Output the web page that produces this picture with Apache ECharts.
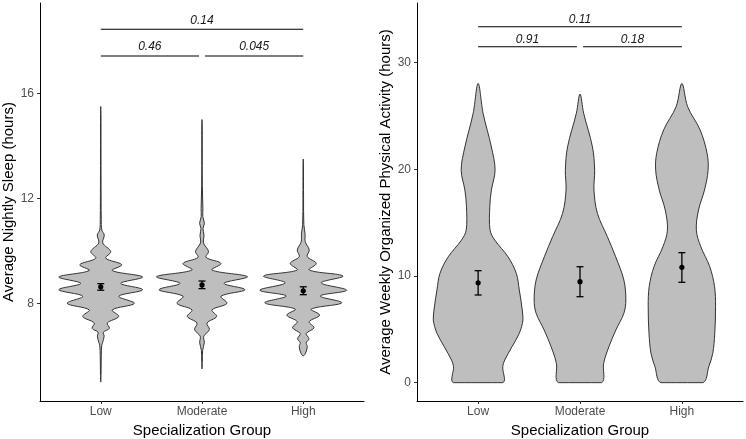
<!DOCTYPE html>
<html><head><meta charset="utf-8">
<script src="https://cdn.jsdelivr.net/npm/echarts@6/dist/echarts.min.js"></script>
<style>html,body{margin:0;padding:0;background:#fff}#c{width:746px;height:439px}</style>
</head><body><div id="c"></div>
<script>
// ---------- data ----------
const categories = ['Low', 'Moderate', 'High'];
const sleepTicks = [8, 12, 16];
const activityTicks = [0, 10, 20, 30];

// violin density profiles: [value, relative density]
const sleepLowDensity = [
  [5.0,0],[5.3,0.3],[6.0,0.5],[6.4,1.0],[6.5,1.8],[6.75,3.4],[6.9,2.6],[7.05,8.7],[7.25,6.5],
  [7.5,18],[7.75,11.5],[8.0,33.6],[8.27,18],[8.52,42],[8.76,20],[9.0,42],[9.25,11.5],[9.47,21],
  [9.72,5],[9.97,10],[10.3,2],[10.6,3.5],[10.8,1.0],[11.2,0.5],[12.5,0.3],[14,0.25],[15.2,0.2],[15.5,0]
];
const sleepModerateDensity = [
  [5.5,0],[5.8,0.3],[6.2,0.6],[6.5,2.3],[6.75,1.8],[7.0,7.4],[7.25,5],[7.5,14.7],[7.75,10],
  [8.0,25],[8.27,19],[8.52,43],[8.76,22],[9.01,45.6],[9.27,10],[9.52,19],[9.75,4],[9.98,6.5],
  [10.3,1.5],[10.6,2],[10.85,1.0],[11.05,2.4],[11.3,0.8],[11.6,0.9],[12.5,0.3],[14,0.25],[14.8,0.2],[15.0,0]
];
const sleepHighDensity = [
  [6.0,0],[6.1,2.3],[6.35,4],[6.5,3],[6.65,5.7],[6.85,3],[7.07,10.7],[7.3,6],[7.55,16.4],[7.78,8],
  [8.02,38.5],[8.28,17],[8.5,43.4],[8.78,18],[9.04,39.7],[9.27,6],[9.52,13],[9.78,4],[10.03,6],
  [10.35,2],[10.65,1.8],[11,0.6],[12,0.3],[13.3,0.2],[13.5,0]
];
const activityLowDensity = [
  [0,24.7],[1.5,24.7],[2.12,26.7],[3.37,34],[4.63,41.3],[5.88,45],[6.81,44.3],[8.69,41.3],
  [10.25,38.3],[11.8,30],[13.37,16.7],[14.3,12],[16.5,11.7],[18.06,13.3],[19.93,17],[22.1,13.3],
  [25.25,5],[28.06,0]
];
const activityModerateDensity = [
  [0,21.5],[1.81,23.7],[3.37,29],[4.94,36],[6.5,44],[7.75,46],[9.63,44],[11.8,35.8],[13.68,27.5],
  [15.87,17.5],[18.06,14],[19.93,14.7],[22.1,12.5],[25.25,3.7],[27.06,0]
];
const activityHighDensity = [
  [0,21],[1.5,27],[2.75,31],[4.63,33],[7.12,33.8],[9.0,32.8],[10.87,28],[12.75,19],[14.3,14.5],
  [16.19,16.7],[18.06,22.7],[19.93,26.3],[21.5,25.3],[23.7,18.3],[25.87,5.8],[28.06,0]
];

const sleepMeans = [8.63, 8.70, 8.48];
const sleepCILow = [8.50, 8.56, 8.33];
const sleepCIHigh = [8.75, 8.85, 8.63];
const activityMeans = [9.37, 9.47, 10.81];
const activityCILow = [8.22, 8.06, 9.41];
const activityCIHigh = [10.50, 10.87, 12.19];

const comparisonPairs = [[1, 2], [2, 3], [1, 3]];
const sleepPValues = ['0.46', '0.045', '0.14'];
const sleepBracketY = [17.42, 17.42, 18.44];
const activityPValues = ['0.91', '0.18', '0.11'];
const activityBracketY = [31.5, 31.5, 33.37];

// ---------- rendering ----------
const FONT = '"Liberation Sans", Arial, sans-serif';
const sleepProfiles = [sleepLowDensity, sleepModerateDensity, sleepHighDensity];
const activityProfiles = [activityLowDensity, activityModerateDensity, activityHighDensity];

function violinRenderer(profiles) {
  const maxD = Math.max(...profiles.map(p => Math.max(...p.map(d => d[1]))));
  return function (params, api) {
    const i = params.dataIndex;
    const prof = profiles[i];
    const xc = api.value(0);
    const right = prof.map(d => api.coord([xc + d[1] / maxD * 0.45, d[0]]));
    const rev = prof.slice().reverse();
    const left = [];
    rev.forEach((d, k) => {
      if (d[1] === 0 && (k === 0 || k === rev.length - 1)) return;
      left.push(api.coord([xc - d[1] / maxD * 0.45, d[0]]));
    });
    const pts = right.concat(left);
    let x0 = Infinity, y0 = Infinity, x1 = -Infinity, y1 = -Infinity;
    pts.forEach(p => { x0 = Math.min(x0, p[0]); y0 = Math.min(y0, p[1]); x1 = Math.max(x1, p[0]); y1 = Math.max(y1, p[1]); });
    return {
      type: 'polygon',
      shape: { points: pts, smooth: 0.35, smoothConstraint: [[x0, y0], [x1, y1]] },
      style: { fill: '#bebebe', stroke: '#333333', lineWidth: 1 }
    };
  };
}

function errorRenderer(params, api) {
  const x = api.value(0);
  const m = api.coord([x, api.value(1)]);
  const lo = api.coord([x, api.value(2)]);
  const hi = api.coord([x, api.value(3)]);
  const cap = 3.5;
  const ls = { stroke: '#000', lineWidth: 1.3 };
  return {
    type: 'group',
    children: [
      { type: 'line', shape: { x1: lo[0], y1: lo[1], x2: hi[0], y2: hi[1] }, style: ls },
      { type: 'line', shape: { x1: lo[0] - cap, y1: lo[1], x2: lo[0] + cap, y2: lo[1] }, style: ls },
      { type: 'line', shape: { x1: hi[0] - cap, y1: hi[1], x2: hi[0] + cap, y2: hi[1] }, style: ls },
      { type: 'circle', shape: { cx: m[0], cy: m[1], r: 2.6 }, style: { fill: '#000' } }
    ]
  };
}

function bracketRenderer(labels, textGap) {
  return function (params, api) {
    const i = params.dataIndex;
    const a = api.value(0), b = api.value(1), y = api.value(2);
    const adjacent = (b - a) === 1;
    const shrinkA = adjacent && a === 2 ? 0.03 : 0;
    const shrinkB = adjacent && b === 2 ? 0.03 : 0;
    const p1 = api.coord([a + shrinkA, y]);
    const p2 = api.coord([b - shrinkB, y]);
    return {
      type: 'group',
      children: [
        { type: 'line', shape: { x1: p1[0], y1: p1[1], x2: p2[0], y2: p2[1] },
          style: { stroke: '#000', lineWidth: 1.1 } },
        { type: 'text', x: (p1[0] + p2[0]) / 2, y: p1[1] - textGap,
          style: { text: labels[i], fill: '#1a1a1a', font: 'italic 12px ' + FONT,
                   textAlign: 'center', textVerticalAlign: 'bottom' } }
      ]
    };
  };
}

function xAxisCfg(gi) {
  return {
    gridIndex: gi, type: 'value', min: 0.4, max: 3.6,
    axisLine: { onZero: false, lineStyle: { color: '#000', width: 1 } },
    axisTick: { customValues: [1, 2, 3], length: 3, lineStyle: { color: '#333' } },
    axisLabel: { customValues: [1, 2, 3], formatter: v => categories[Math.round(v) - 1],
                 color: '#4d4d4d', fontSize: 12, margin: 5, fontFamily: FONT },
    splitLine: { show: false },
    name: 'Specialization Group', nameLocation: 'middle', nameGap: 21,
    nameTextStyle: { fontSize: 15, color: '#000', fontFamily: FONT }
  };
}
function yAxisCfg(gi, min, max, ticks, name, gap) {
  return {
    gridIndex: gi, type: 'value', min: min, max: max,
    axisLine: { show: true, onZero: false, lineStyle: { color: '#000', width: 1 } },
    axisTick: { show: true, customValues: ticks, length: 3, lineStyle: { color: '#333' } },
    axisLabel: { customValues: ticks, color: '#4d4d4d', fontSize: 12, margin: 6, fontFamily: FONT },
    splitLine: { show: false },
    name: name, nameLocation: 'middle', nameGap: gap, nameRotate: 90,
    nameTextStyle: { fontSize: 15, color: '#000', fontFamily: FONT }
  };
}

const idx = categories.map((c, i) => i + 1);
const chart = echarts.init(document.getElementById('c'), null, { renderer: 'canvas' });
chart.setOption({
  animation: false,
  backgroundColor: '#fff',
  grid: [
    { left: 40, top: 3, width: 324, height: 398, outerBoundsMode: 'none', containLabel: false },
    { left: 417, top: 3, width: 326, height: 398, outerBoundsMode: 'none', containLabel: false }
  ],
  xAxis: [xAxisCfg(0), xAxisCfg(1)],
  yAxis: [
    yAxisCfg(0, 4.28, 19.44, sleepTicks, 'Average Nightly Sleep (hours)', 23),
    yAxisCfg(1, -1.72, 35.6, activityTicks, 'Average Weekly Organized Physical Activity (hours)', 23)
  ],
  series: [
    { type: 'custom', xAxisIndex: 0, yAxisIndex: 0, renderItem: violinRenderer(sleepProfiles),
      data: idx.map(x => [x, sleepMeans[x - 1]]), silent: true },
    { type: 'custom', xAxisIndex: 1, yAxisIndex: 1, renderItem: violinRenderer(activityProfiles),
      data: idx.map(x => [x, activityMeans[x - 1]]), silent: true },
    { type: 'custom', xAxisIndex: 0, yAxisIndex: 0, renderItem: errorRenderer,
      data: idx.map(x => [x, sleepMeans[x - 1], sleepCILow[x - 1], sleepCIHigh[x - 1]]), z: 5 },
    { type: 'custom', xAxisIndex: 1, yAxisIndex: 1, renderItem: errorRenderer,
      data: idx.map(x => [x, activityMeans[x - 1], activityCILow[x - 1], activityCIHigh[x - 1]]), z: 5 },
    { type: 'custom', xAxisIndex: 0, yAxisIndex: 0, renderItem: bracketRenderer(sleepPValues, 3),
      data: comparisonPairs.map((p, i) => [p[0], p[1], sleepBracketY[i]]) },
    { type: 'custom', xAxisIndex: 1, yAxisIndex: 1, renderItem: bracketRenderer(activityPValues, 1.5),
      data: comparisonPairs.map((p, i) => [p[0], p[1], activityBracketY[i]]) }
  ]
});
</script>
</body></html>
